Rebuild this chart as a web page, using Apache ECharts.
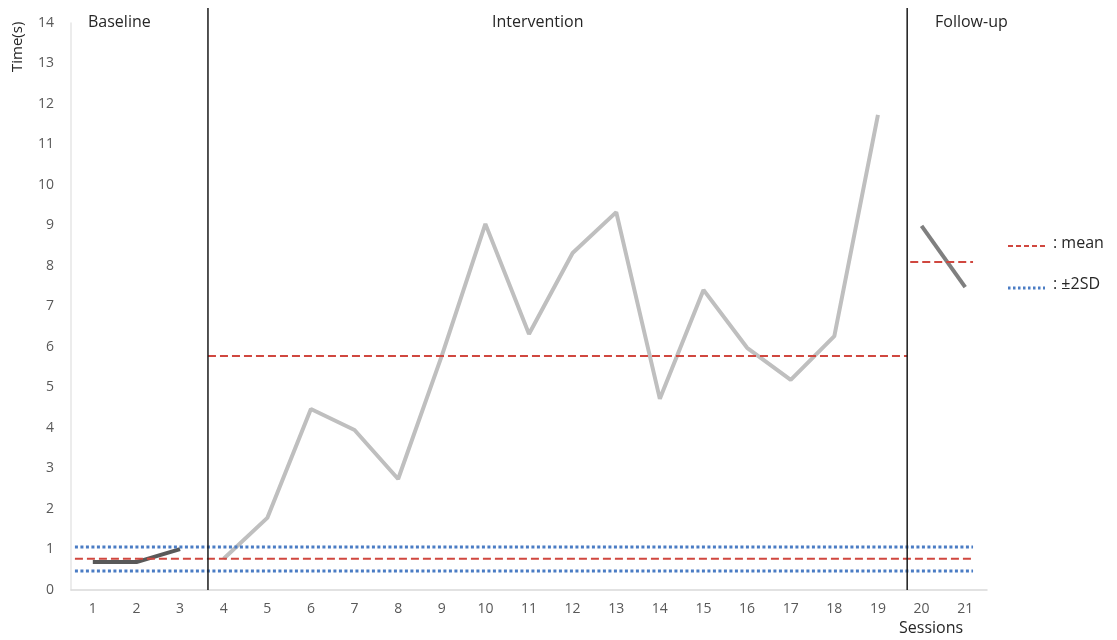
<!DOCTYPE html>
<html>
<head>
<meta charset="utf-8">
<script src="https://cdn.jsdelivr.net/npm/echarts@6/dist/echarts.min.js"></script>
<style>
  html, body { margin: 0; padding: 0; background: #fff; }
  #chart { width: 1117px; height: 640px; }
</style>
</head>
<body>
<div id="chart"></div>
<script>
// sessions and measured time (s)
const sessions = [1, 2, 3, 4, 5, 6, 7, 8, 9, 10, 11, 12, 13, 14, 15, 16, 17, 18, 19, 20, 21]
const baselineTime = [0.69, 0.69, 1.01]
const interventionTime = [0.77, 1.78, 4.47, 3.95, 2.74, 5.78, 9.04, 6.32, 8.32, 9.33, 4.72, 7.41, 5.98, 5.19, 6.27, 11.73]
const followupTime = [8.99, 7.48]

// reference levels
const baselineMean = 0.77
const sdUpper = 1.06
const sdLower = 0.47
const interventionMean = 5.78
const followupMean = 8.1

// phase boundaries (session units) and line spans
const phaseBreaks = [3.64, 19.67]
const phaseBreakTop = 14.37
const refSpan = [0.59, 21.18]
const interventionSpan = [3.64, 19.67]
const followupSpan = [19.74, 21.18]

const yTicks = [0, 1, 2, 3, 4, 5, 6, 7, 8, 9, 10, 11, 12, 13, 14]

const chart = echarts.init(document.getElementById('chart'))

const toPoints = (start, vals) => vals.map((v, i) => [start + i, v])
const hLine = (span, y) => [[span[0], y], [span[1], y]]

const font = 'Open Sans, Noto Sans, sans-serif'
const red = '#d0473f'
const blue = '#4a7cc4'

function refSeries (data, color, type, width) {
  return {
    type: 'line',
    data: data,
    symbol: 'none',
    silent: true,
    clip: false,
    lineStyle: { color: color, width: width, type: type },
    z: 3
  }
}

chart.setOption({
  animation: false,
  grid: { left: 71, right: 130, top: 23, bottom: 50 },
  xAxis: {
    type: 'value',
    min: 0.5,
    max: 21.5,
    axisLine: { show: true, lineStyle: { color: '#d9d9d9', width: 1.5 } },
    axisTick: { show: false },
    splitLine: { show: false },
    axisLabel: {
      color: '#595959',
      fontSize: 14,
      fontFamily: font,
      margin: 12,
      customValues: sessions
    }
  },
  yAxis: {
    type: 'value',
    min: yTicks[0],
    max: yTicks[yTicks.length - 1],
    interval: 1,
    axisLine: { show: true, lineStyle: { color: '#e6e6e6', width: 1.5 } },
    axisTick: { show: false },
    splitLine: { show: false },
    axisLabel: { color: '#595959', fontSize: 14, fontFamily: font, margin: 17 }
  },
  series: [
    // ±2SD and baseline mean across all phases
    refSeries(hLine(refSpan, sdUpper), blue, [3, 2.5], 3),
    refSeries(hLine(refSpan, sdLower), blue, [3, 2.5], 3),
    refSeries(hLine(refSpan, baselineMean), red, [8, 4], 2),
    refSeries(hLine(interventionSpan, interventionMean), red, [8, 4], 2),
    refSeries(hLine(followupSpan, followupMean), red, [8, 4], 2),
    // phase separators
    ...phaseBreaks.map(x => refSeries([[x, 0], [x, phaseBreakTop]], '#1a1a1a', 'solid', 1.5)),
    {
      type: 'line',
      data: toPoints(1, baselineTime),
      symbol: 'none',
      lineStyle: { color: '#595959', width: 4 },
      z: 2
    },
    {
      type: 'line',
      data: toPoints(4, interventionTime),
      symbol: 'none',
      lineStyle: { color: '#bfbfbf', width: 4 },
      z: 2
    },
    {
      type: 'line',
      data: toPoints(20, followupTime),
      symbol: 'none',
      lineStyle: { color: '#7f7f7f', width: 4 },
      z: 2
    }
  ],
  graphic: [
    { type: 'text', left: 88, top: 14, style: { text: 'Baseline', fontSize: 16, fontFamily: font, fill: '#262626' } },
    { type: 'text', left: 492, top: 14, style: { text: 'Intervention', fontSize: 16, fontFamily: font, fill: '#262626' } },
    { type: 'text', left: 935, top: 14, style: { text: 'Follow-up', fontSize: 16, fontFamily: font, fill: '#262626' } },
    { type: 'text', x: 10, y: 72, rotation: Math.PI / 2, style: { text: 'Time(s)', fontSize: 15, fontFamily: font, fill: '#262626' } },
    { type: 'text', left: 899, top: 620, style: { text: 'Sessions', fontSize: 16, fontFamily: font, fill: '#262626' } },
    // legend
    { type: 'line', shape: { x1: 1008, y1: 246, x2: 1048, y2: 246 }, style: { stroke: red, lineWidth: 2, lineDash: [5, 3] } },
    { type: 'text', left: 1053, top: 235, style: { text: ': mean', fontSize: 16, fontFamily: font, fill: '#262626' } },
    { type: 'line', shape: { x1: 1008, y1: 288, x2: 1045, y2: 288 }, style: { stroke: blue, lineWidth: 3, lineDash: [2.5, 2.5] } },
    { type: 'text', left: 1053, top: 276, style: { text: ': ±2SD', fontSize: 16, fontFamily: font, fill: '#262626' } }
  ]
})
</script>
</body>
</html>
